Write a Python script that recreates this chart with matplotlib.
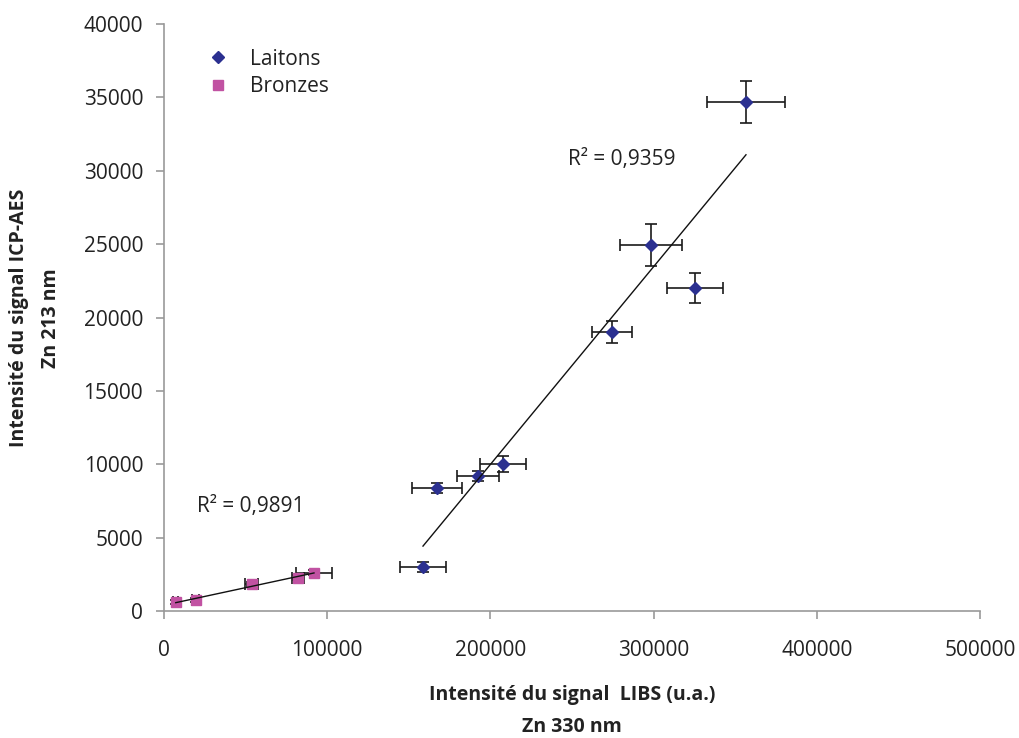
import numpy as np
import matplotlib
matplotlib.use("Agg")
import matplotlib.pyplot as plt
from matplotlib.lines import Line2D

plt.rcParams['font.family'] = ['Open Sans', 'DejaVu Sans']

# Laitons (brass)
lai_x = [158700, 167300, 192400, 207700, 274500, 298400, 325400, 356600]
lai_y = [3000, 8380, 9200, 10020, 19010, 24940, 22010, 34680]
lai_xerr = [13800, 15300, 12900, 14000, 12000, 19000, 17000, 24000]
lai_yerr = [350, 350, 350, 550, 780, 1400, 1020, 1430]

# Bronzes
bro_x = [7200, 19400, 53700, 82200, 91900]
bro_y = [600, 760, 1820, 2270, 2610]
bro_xerr = [1500, 2000, 3800, 3800, 10800]
bro_yerr = [150, 150, 150, 150, 150]

series_names = ['Laitons', 'Bronzes']
r2_lai = "R² = 0,9359"
r2_bro = "R² = 0,9891"

fig = plt.figure(figsize=(10.19, 7.38), dpi=100)
ax = fig.add_axes([164/1019, 1-611/738, (980-164)/1019, (611-24)/738])

lai_col = '#2B3090'
bro_col = '#C152A2'
txt_col = '#222222'
fs = 15

ax.errorbar(lai_x, lai_y, xerr=lai_xerr, yerr=lai_yerr, fmt='D', color=lai_col,
            ecolor='#1a1a1a', elinewidth=1.2, capsize=4, capthick=1.2,
            markersize=6.5, zorder=3)
ax.errorbar(bro_x, bro_y, xerr=bro_xerr, yerr=bro_yerr, fmt='s', color=bro_col,
            ecolor='#1a1a1a', elinewidth=1.2, capsize=4, capthick=1.2,
            markersize=7.5, zorder=3)

# Trend lines (linear regression on each series)
for xs, ys in ((lai_x, lai_y), (bro_x, bro_y)):
    p = np.polyfit(xs, ys, 1)
    xx = np.array([min(xs), max(xs)])
    ax.plot(xx, np.polyval(p, xx), color='#111111', lw=1.0, zorder=4)

ax.text(247500, 30400, r2_lai, fontsize=fs, color=txt_col)
ax.text(20500, 6750, r2_bro, fontsize=fs, color=txt_col)

ax.set_xlim(0, 500000)
ax.set_ylim(0, 40000)
ax.set_xticks(np.arange(0, 500001, 100000))
ax.set_yticks(np.arange(0, 40001, 5000))
ax.tick_params(labelsize=fs, labelcolor=txt_col, direction='out', length=6,
               width=1.2, color='#999999')
ax.tick_params(axis='x', pad=15)
ax.tick_params(axis='y', pad=9)
for s in ['top', 'right']:
    ax.spines[s].set_visible(False)
for s in ['left', 'bottom']:
    ax.spines[s].set_color('#999999')
    ax.spines[s].set_linewidth(1.2)

ax.set_xlabel('Intensité du signal  LIBS (u.a.)\nZn 330 nm', fontsize=14,
              fontweight='bold', linespacing=1.75, color=txt_col)
ax.xaxis.label.set_va('center')
ax.xaxis.set_label_coords((572-164)/816, -(711-611)/587)
ax.set_ylabel('Intensité du signal ICP-AES\nZn 213 nm', fontsize=14,
              fontweight='bold', linespacing=1.85, color=txt_col)
ax.yaxis.label.set_va('center')
ax.yaxis.set_label_coords(-(164-35)/816, (611-318)/587)

h = [Line2D([], [], marker='D', color=lai_col, ls='none', markersize=6.5),
     Line2D([], [], marker='s', color=bro_col, ls='none', markersize=7.5)]
ax.legend(h, series_names, loc='upper left', bbox_to_anchor=(0.031, 0.99),
          frameon=False, fontsize=fs, handlelength=1.0, handletextpad=1.0,
          labelspacing=0.3, labelcolor=txt_col)

fig.savefig('out.png', dpi=100)
